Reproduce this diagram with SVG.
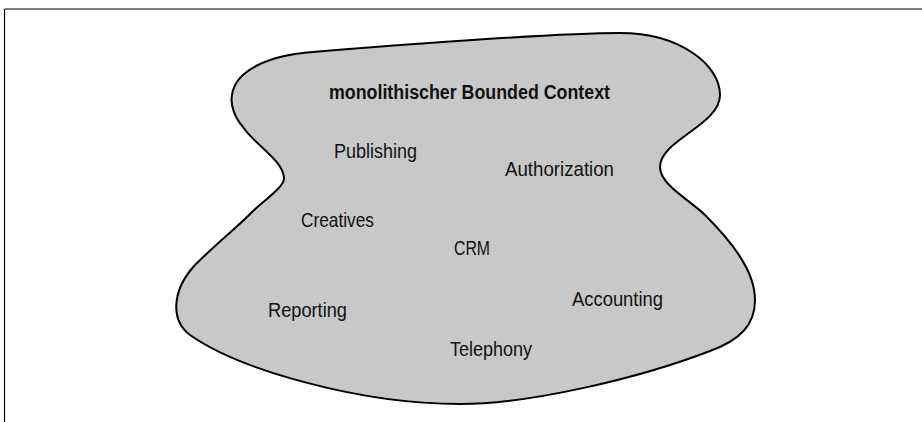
<svg xmlns="http://www.w3.org/2000/svg" width="922" height="422" viewBox="0 0 922 422">
<style>
.lbl{font-family:"Liberation Sans",Arial,sans-serif;font-size:21px;fill:#111}
.ttl{font-family:"Liberation Sans",Arial,sans-serif;font-size:20px;font-weight:bold;fill:#111}
</style>
<rect width="922" height="422" fill="#fff"/>
<g id="frame" fill="none" stroke="#000" stroke-width="1.2">
<path d="M4.5 9 H922 M4.5 9 V422"/>
</g>
<g id="context">
<path d="M313 52 C400 45,560 33,620 33 C680 33,720 65,720 95 C720 125,660 140,660 167 C660 185,690 200,705 215 C730 240,755 270,755 300 C755 325,740 340,710 351 C640 378,530 404,460 404 C360 404,240 370,190 335 C170 320,172 290,195 265 C220 240,240 225,253 211 C270 196,285 185,284 178 C283 160,255 145,243 127 C235 118,230 105,232 95 C235 70,270 55,313 52 Z" fill="#c8c8c8" stroke="#000" stroke-width="2"/>
<text class="ttl" x="329" y="99" textLength="281" lengthAdjust="spacingAndGlyphs">monolithischer Bounded Context</text>
</g>
<g id="publishing"><text class="lbl" x="334" y="158" textLength="83" lengthAdjust="spacingAndGlyphs">Publishing</text></g>
<g id="authorization"><text class="lbl" x="505" y="176" textLength="109" lengthAdjust="spacingAndGlyphs">Authorization</text></g>
<g id="creatives"><text class="lbl" x="301" y="227" textLength="73" lengthAdjust="spacingAndGlyphs">Creatives</text></g>
<g id="crm"><text class="lbl" x="454" y="255" textLength="36" lengthAdjust="spacingAndGlyphs">CRM</text></g>
<g id="reporting"><text class="lbl" x="268" y="317" textLength="79" lengthAdjust="spacingAndGlyphs">Reporting</text></g>
<g id="accounting"><text class="lbl" x="572" y="306" textLength="91" lengthAdjust="spacingAndGlyphs">Accounting</text></g>
<g id="telephony"><text class="lbl" x="450" y="356" textLength="82" lengthAdjust="spacingAndGlyphs">Telephony</text></g>
<g id="connectors"></g>
</svg>
